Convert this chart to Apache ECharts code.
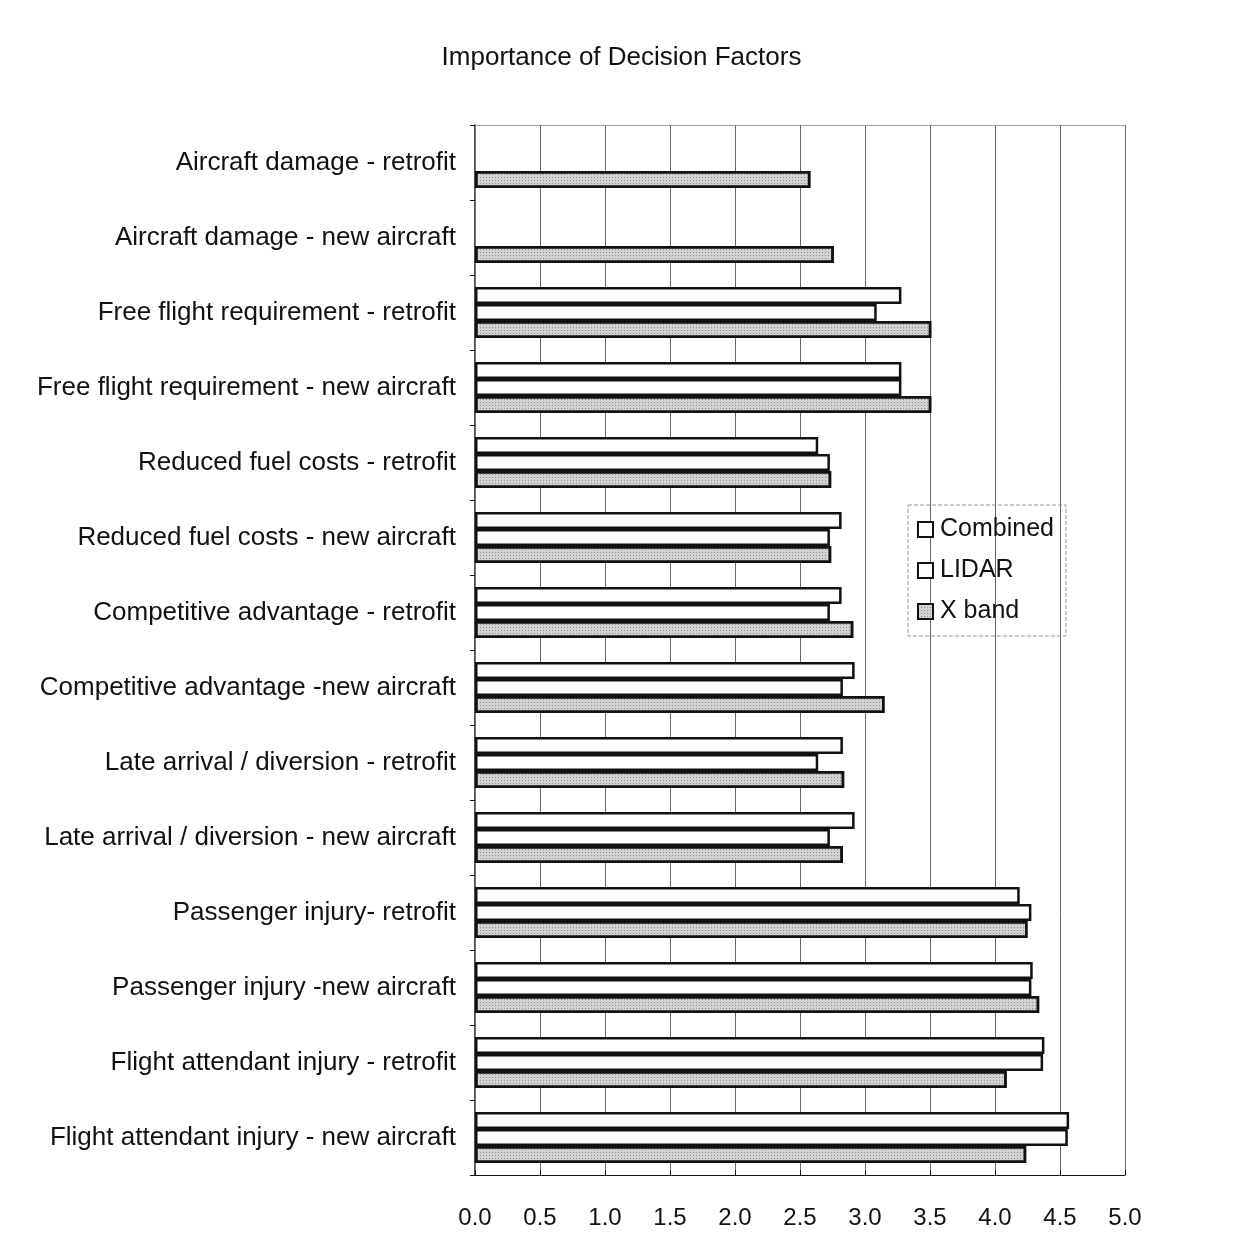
<!DOCTYPE html>
<html>
<head>
<meta charset="utf-8">
<script src="https://cdn.jsdelivr.net/npm/echarts@6/dist/echarts.min.js"></script>
<style>
  html, body { margin: 0; padding: 0; background: #fff; }
  #chart { width: 1243px; height: 1260px; }
</style>
</head>
<body>
<div id="chart"></div>
<script>
const categories = [
  'Aircraft damage - retrofit',
  'Aircraft damage - new aircraft',
  'Free flight requirement - retrofit',
  'Free flight requirement - new aircraft',
  'Reduced fuel costs - retrofit',
  'Reduced fuel costs - new aircraft',
  'Competitive advantage - retrofit',
  'Competitive advantage -new aircraft',
  'Late arrival / diversion - retrofit',
  'Late arrival / diversion - new aircraft',
  'Passenger injury- retrofit',
  'Passenger injury -new aircraft',
  'Flight attendant injury - retrofit',
  'Flight attendant injury - new aircraft'
];
const combined = [null, null, 3.28, 3.28, 2.64, 2.82, 2.82, 2.92, 2.83, 2.92, 4.19, 4.29, 4.38, 4.57];
const lidar    = [null, null, 3.09, 3.28, 2.73, 2.73, 2.73, 2.83, 2.64, 2.73, 4.28, 4.28, 4.37, 4.56];
const xband    = [2.58, 2.76, 3.51, 3.51, 2.74, 2.74, 2.91, 3.15, 2.84, 2.83, 4.25, 4.34, 4.09, 4.24];
const xTicks = ['0.0', '0.5', '1.0', '1.5', '2.0', '2.5', '3.0', '3.5', '4.0', '4.5', '5.0'];

const font = 'Liberation Sans, Arial, sans-serif';
const chart = echarts.init(document.getElementById('chart'));

// stippled grey like the scanned X band bars
const stipple = {
  symbol: 'rect',
  symbolSize: 1,
  dashArrayX: [1, 2],
  dashArrayY: [1, 2],
  rotation: 0,
  color: 'rgba(60,60,60,0.45)'
};

const barStyle = (fill, decal) => ({
  color: fill,
  borderColor: '#111',
  borderWidth: 2.5,
  decal: decal
});

chart.setOption({
  animation: false,
  backgroundColor: '#fff',
  title: {
    text: 'Importance of Decision Factors',
    left: 'center',
    top: 40,
    textStyle: { fontFamily: font, fontSize: 26, fontWeight: 'normal', color: '#111' }
  },
  legend: {
    data: ['Combined', 'LIDAR', 'X band'],
    orient: 'vertical',
    left: 908,
    top: 505,
    padding: [12, 12, 12, 9],
    icon: 'rect',
    itemWidth: 15,
    itemHeight: 15,
    itemGap: 16,
    borderColor: '#999',
    borderWidth: 1,
    borderType: 'dashed',
    textStyle: { fontFamily: font, fontSize: 25, color: '#111', padding: [0, 0, 0, 2] }
  },
  grid: {
    left: 475,
    right: 118,
    top: 125,
    bottom: 85
  },
  xAxis: [
    {
      type: 'value',
      min: 0,
      max: 5,
      interval: 0.5,
      position: 'bottom',
      axisLine: { show: true, lineStyle: { color: '#111', width: 1 } },
      axisTick: { show: true, inside: true, length: 5, lineStyle: { color: '#111' } },
      axisLabel: {
        margin: 31,
        fontFamily: font,
        fontSize: 24,
        color: '#111',
        formatter: (v) => xTicks[Math.round(v * 2)]
      },
      splitLine: { show: true, lineStyle: { color: '#666', width: 1 } }
    },
    {
      type: 'value',
      min: 0,
      max: 5,
      position: 'top',
      axisLine: { show: true, lineStyle: { color: '#888', type: 'dotted', width: 1 } },
      axisTick: { show: false },
      axisLabel: { show: false },
      splitLine: { show: false }
    }
  ],
  yAxis: [
    {
      type: 'category',
      data: categories,
      inverse: true,
      axisLine: { show: true, lineStyle: { color: '#111', width: 1.5 } },
      axisTick: { show: true, length: 5, lineStyle: { color: '#111' } },
      axisLabel: {
        margin: 19,
        fontFamily: font,
        fontSize: 26,
        color: '#111'
      }
    },
    {
      type: 'category',
      data: categories,
      inverse: true,
      position: 'right',
      axisLine: { show: true, lineStyle: { color: '#888', type: 'dotted', width: 1 } },
      axisTick: { show: false },
      axisLabel: { show: false }
    }
  ],
  series: [
    {
      name: 'Combined',
      type: 'bar',
      data: combined,
      barWidth: 17,
      barGap: '0%',
      barCategoryGap: '30%',
      itemStyle: barStyle('#ffffff')
    },
    {
      name: 'LIDAR',
      type: 'bar',
      data: lidar,
      barWidth: 17,
      barGap: '0%',
      itemStyle: barStyle('#ffffff')
    },
    {
      name: 'X band',
      type: 'bar',
      data: xband,
      barWidth: 17,
      barGap: '0%',
      itemStyle: barStyle('#d2d2d2', stipple)
    }
  ]
});
</script>
</body>
</html>
